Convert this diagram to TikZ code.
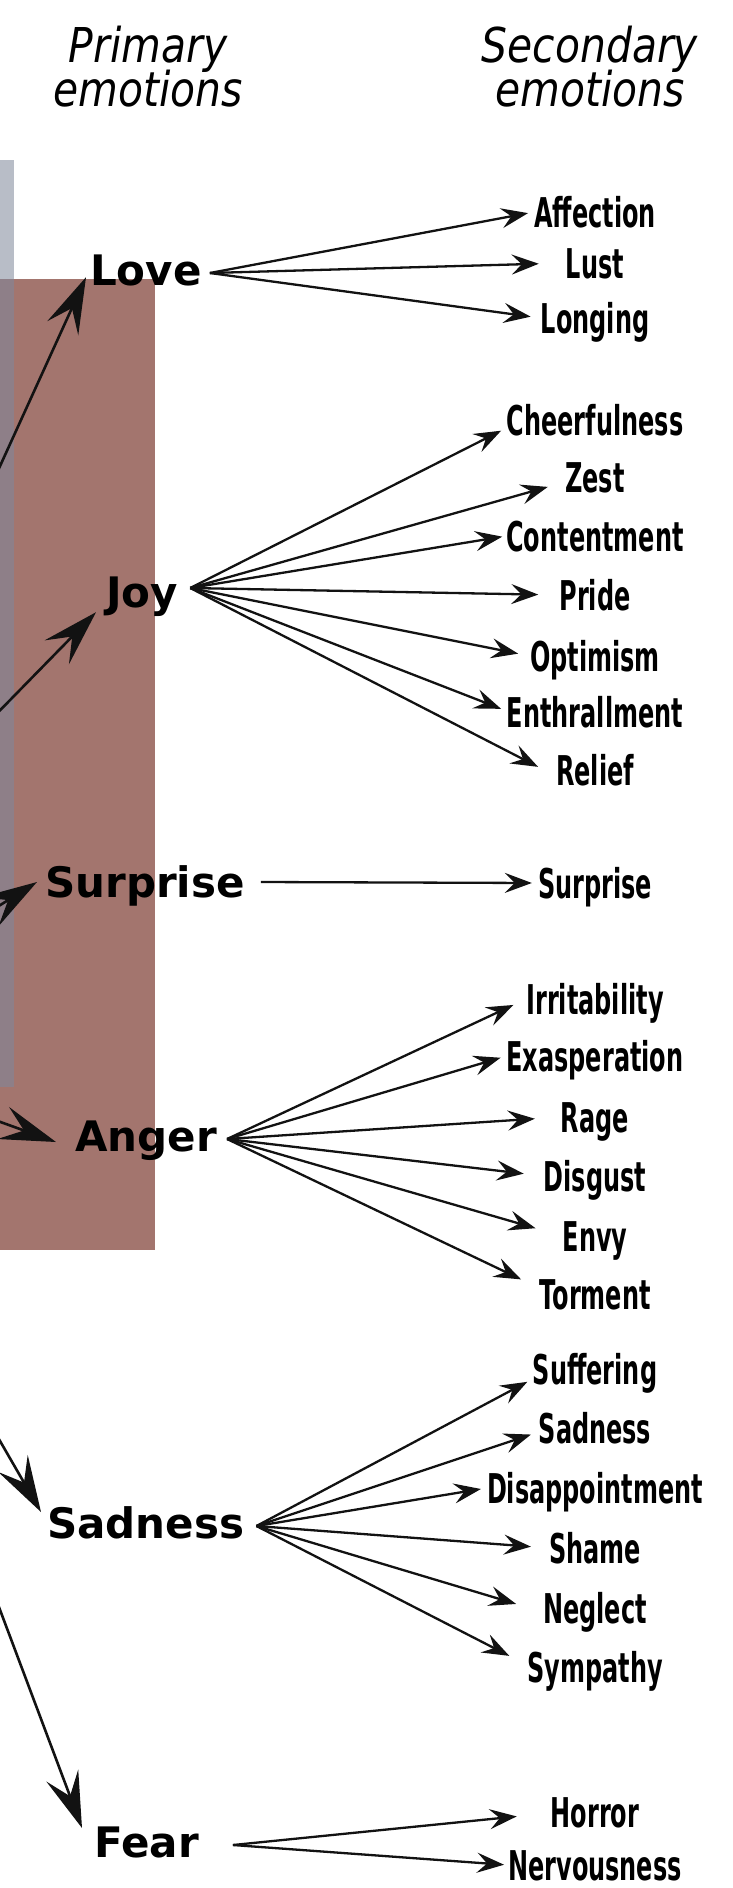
\documentclass[tikz,border=0pt]{standalone}
\usepackage{fontspec}
\usepackage{tikz}
\usetikzlibrary{arrows.meta}
\newfontfamily\primfont{DejaVu Sans}
\newfontfamily\headfont[FakeStretch=0.85]{DejaVu Sans}
\newfontfamily\secfont[FakeStretch=0.585]{DejaVu Sans}
\definecolor{boxred}{RGB}{163,117,110}
\definecolor{stripgray}{RGB}{184,189,199}
\definecolor{stripmix}{RGB}{142,127,136}
\definecolor{linegray}{RGB}{18,18,18}

\begin{document}
\begin{tikzpicture}[x=1pt, y=-1pt,
    head/.style={font=\headfont\itshape\fontsize{48}{52}\selectfont, inner sep=0pt, anchor=base},
    prim/.style={font=\primfont\bfseries\fontsize{42}{48}\selectfont, inner sep=0pt, text height=30pt, text depth=0pt, anchor=west},
    sec/.style={font=\secfont\bfseries\fontsize{41}{48}\selectfont, inner sep=0pt, text height=30pt, text depth=0pt},
    feed/.style={line width=2.6pt, draw=linegray, -{Stealth[length=56pt, width=34pt, inset=22pt]}},
    fan/.style={line width=2.3pt, draw=linegray, shorten >=6pt, -{Stealth[length=27pt, width=20pt, inset=10pt]}}]
                \useasboundingbox (0,0) rectangle (733,1888);
                \fill[white] (0,0) rectangle (733,1888);
                \fill[boxred] (0,279) rectangle (155,1250);
                \fill[stripgray] (0,160) rectangle (14,279);
                \fill[stripmix] (0,279) rectangle (14,1087);

                \node[head] (primhead) at (148,62) {Primary};
                \node[head] (primhead2) at (148,106) {emotions};
                \node[head] (sechead) at (590,62) {Secondary};
                \node[head] (sechead2) at (590,106) {emotions};

                \node[prim] (love) at (90,270) {Love};
                \node[prim] (joy) at (106,592) {Joy};
                \node[prim] (surprise) at (45,882) {Surprise};
                \node[prim] (anger) at (75,1136) {Anger};
                \node[prim] (sadness) at (47,1523) {Sadness};
                \node[prim] (fear) at (94,1842) {Fear};

                \node[sec] (affection) at (595,212) {Affection};
                \node[sec] (lust) at (595,263) {Lust};
                \node[sec] (longing) at (595,318) {Longing};
                \node[sec] (cheer) at (595,420) {Cheerfulness};
                \node[sec] (zest) at (595,477) {Zest};
                \node[sec] (content) at (595,536) {Contentment};
                \node[sec] (pride) at (595,595) {Pride};
                \node[sec] (optimism) at (595,656) {Optimism};
                \node[sec] (enthral) at (595,712) {Enthrallment};
                \node[sec] (relief) at (595,770) {Relief};
                \node[sec] (surprise2) at (595,883) {Surprise};
                \node[sec] (irrit) at (595,999) {Irritability};
                \node[sec] (exasp) at (595,1056) {Exasperation};
                \node[sec] (rage) at (595,1117) {Rage};
                \node[sec] (disgust) at (595,1176) {Disgust};
                \node[sec] (envy) at (595,1236) {Envy};
                \node[sec] (torment) at (595,1294) {Torment};
                \node[sec] (suffer) at (595,1369) {Suffering};
                \node[sec] (sad2) at (595,1428) {Sadness};
                \node[sec] (disap) at (595,1488) {Disappointment};
                \node[sec] (shame) at (595,1548) {Shame};
                \node[sec] (neglect) at (595,1608) {Neglect};
                \node[sec] (sympathy) at (595,1667) {Sympathy};
                \node[sec] (horror) at (595,1812) {Horror};
                \node[sec] (nervous) at (595,1865) {Nervousness};

                \coordinate (tolove) at (-30,532);
                \coordinate (tojoy) at (-30,741);
                \coordinate (tosurprise) at (-30,924);
                \coordinate (toanger) at (-30,1111);
                \coordinate (tosadness) at (-30,1389);
                \coordinate (tofear) at (-30,1530);
                \coordinate (loveo) at ([xshift=8pt,yshift=-3pt]love.east);
                \coordinate (joyo) at ([xshift=12pt,yshift=4pt]joy.east);
                \coordinate (surpriseo) at ([xshift=16pt]surprise.east);
                \coordinate (angero) at ([xshift=10pt,yshift=-3pt]anger.east);
                \coordinate (sadnesso) at ([xshift=12pt,yshift=-3pt]sadness.east);
                \coordinate (fearo) at ([xshift=34pt,yshift=-3pt]fear.east);

                \draw[feed] (tolove) -- ([xshift=-4pt,yshift=8pt]love.south west);
                \draw[feed] (tojoy) -- ([xshift=-10pt,yshift=-5pt]joy.south west);
                \draw[feed] (tosurprise) -- ([xshift=-8pt]surprise.west);
                \draw[feed] (toanger) -- ([xshift=-19pt,yshift=-6pt]anger.west);
                \draw[feed] (tosadness) -- ([xshift=-6pt,yshift=11pt]sadness.west);
                \draw[feed] (tofear) -- ([xshift=-12pt,yshift=14pt]fear.west);

                \draw[fan] (loveo) -- (affection.west);
                \draw[fan, shorten >=27pt] (loveo) -- (lust.west);
                \draw[fan, shorten >=10pt] (loveo) -- (longing.west);

                \draw[fan] (joyo) -- ([yshift=-8pt]cheer.west);
                \draw[fan, shorten >=18pt] (joyo) -- ([yshift=-5pt]zest.west);
                \draw[fan, shorten >=4pt] (joyo) -- (content.west);
                \draw[fan, shorten >=21pt] (joyo) -- (pride.west);
                \draw[fan, shorten >=12pt] (joyo) -- (optimism.west);
                \draw[fan, shorten >=6pt] (joyo) -- ([yshift=1pt]enthral.west);
                \draw[fan, shorten >=20pt] (joyo) -- ([yshift=-6pt]relief.west);

                \draw[fan] (surpriseo) -- (surprise2.west);

                \draw[fan, shorten >=14pt] (angero) -- (irrit.west);
                \draw[fan] (angero) -- (exasp.west);
                \draw[fan, shorten >=26pt] (angero) -- (rage.west);
                \draw[fan, shorten >=20pt] (angero) -- (disgust.west);
                \draw[fan, shorten >=28pt] (angero) -- (envy.west);
                \draw[fan, shorten >=20pt] (angero) -- ([yshift=6pt]torment.west);

                \draw[fan] (sadnesso) -- ([yshift=-10pt]suffer.west);
                \draw[fan, shorten >=8pt] (sadnesso) -- ([yshift=-4pt]sad2.west);
                \draw[fan] (sadnesso) -- (disap.west);
                \draw[fan, shorten >=18pt] (sadnesso) -- (shame.west);
                \draw[fan, shorten >=28pt] (sadnesso) -- ([yshift=-4pt]neglect.west);
                \draw[fan, shorten >=20pt] (sadnesso) -- ([yshift=2pt]sympathy.west);

                \draw[fan, shorten >=34pt] (fearo) -- ([yshift=-1pt]horror.west);
                \draw[fan, shorten >=4pt] (fearo) -- (nervous.west);
            \end{tikzpicture}
\end{document}
